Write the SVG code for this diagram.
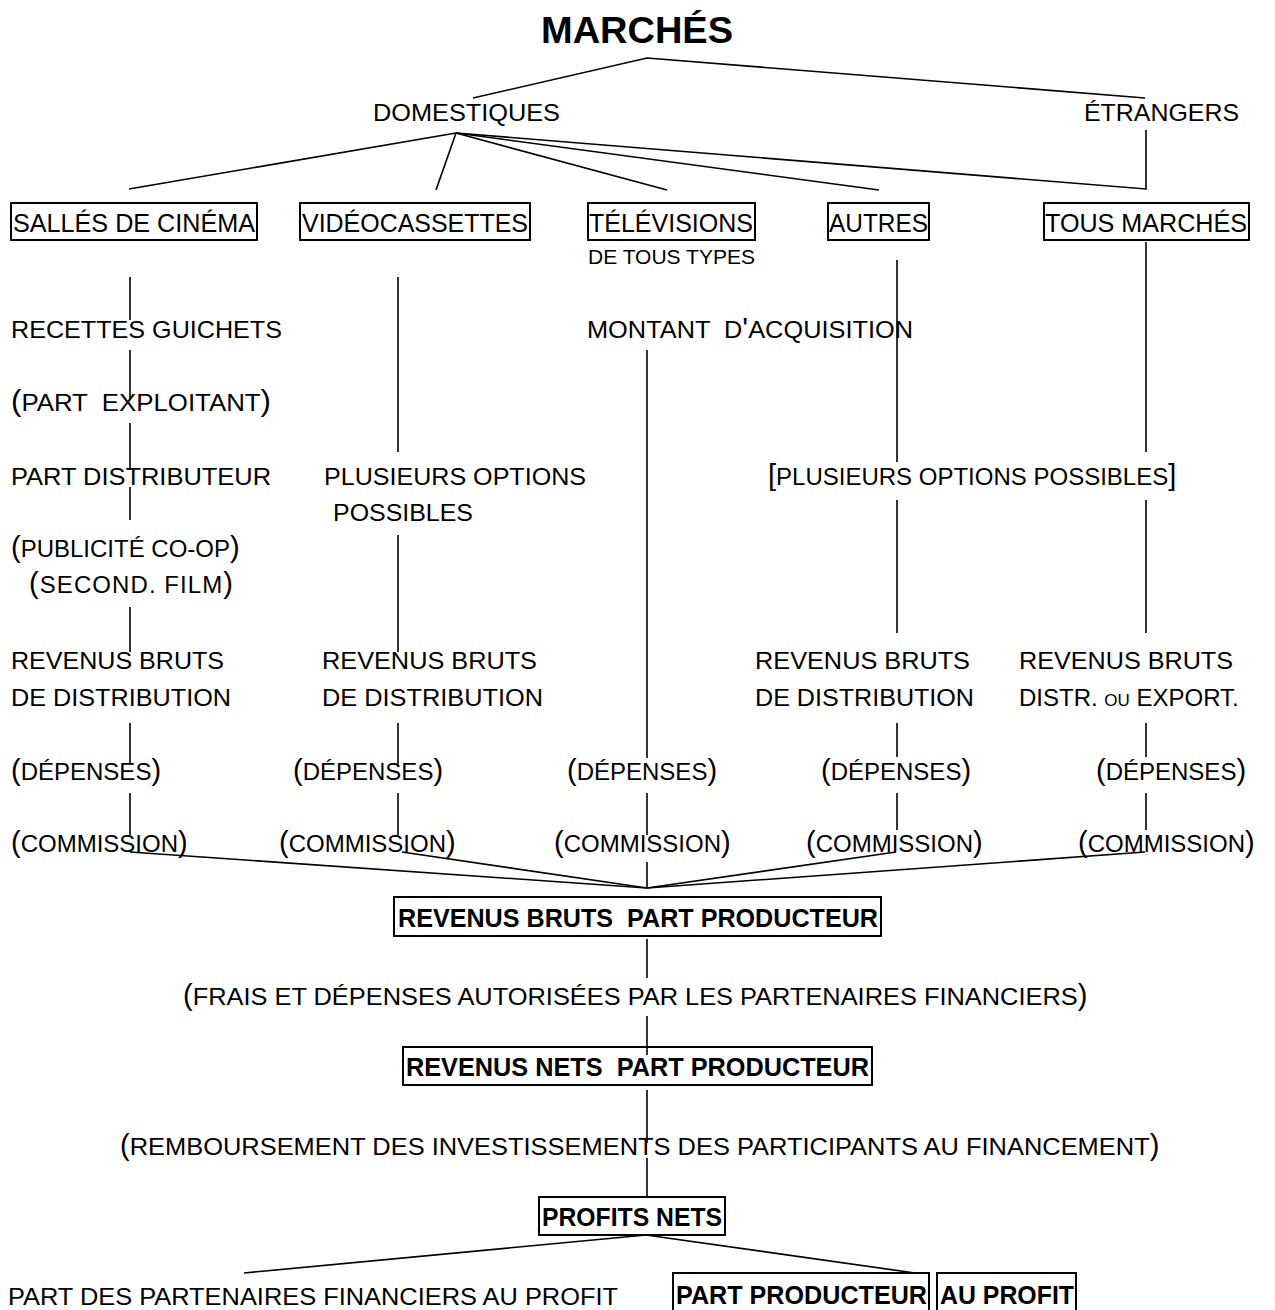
<svg xmlns="http://www.w3.org/2000/svg" width="1275" height="1310" viewBox="0 0 1275 1310">
<style>
.t{font-family:"Liberation Sans",Arial,sans-serif;font-size:24px;fill:#000}
.k{font-size:25px}
.b{font-weight:bold;font-size:26px}
.p{font-size:29px}
.s{font-size:17px}
.box{fill:none;stroke:#000;stroke-width:2}
.c line,.c polyline{stroke:#000;stroke-width:1.6;fill:none}
</style>
<rect width="1275" height="1310" fill="#fff"/>
<g class="c" id="connectors">
<polyline points="473,98 647,58 1145,98"/>
<line x1="456" y1="133" x2="129" y2="189"/>
<line x1="456" y1="133" x2="436" y2="190"/>
<line x1="456" y1="133" x2="667" y2="190"/>
<line x1="456" y1="133" x2="879" y2="190"/>
<polyline points="456,133 1146,189 1146,130"/>
<line x1="130" y1="277" x2="130" y2="320"/>
<line x1="130" y1="350" x2="130" y2="400"/>
<line x1="130" y1="423" x2="130" y2="470"/>
<line x1="130" y1="487" x2="130" y2="520"/>
<line x1="130" y1="607" x2="130" y2="652"/>
<line x1="130" y1="723" x2="130" y2="765"/>
<line x1="130" y1="793" x2="130" y2="835"/>
<line x1="398" y1="277" x2="398" y2="452"/>
<line x1="398" y1="535" x2="398" y2="652"/>
<line x1="398" y1="723" x2="398" y2="765"/>
<line x1="398" y1="793" x2="398" y2="835"/>
<line x1="647" y1="350" x2="647" y2="758"/>
<line x1="647" y1="793" x2="647" y2="835"/>
<line x1="647" y1="862" x2="647" y2="888"/>
<line x1="897" y1="260" x2="897" y2="462"/>
<line x1="897" y1="500" x2="897" y2="633"/>
<line x1="897" y1="723" x2="897" y2="757"/>
<line x1="897" y1="793" x2="897" y2="830"/>
<line x1="1146" y1="242" x2="1146" y2="452"/>
<line x1="1146" y1="500" x2="1146" y2="633"/>
<line x1="1146" y1="723" x2="1146" y2="757"/>
<line x1="1146" y1="793" x2="1146" y2="830"/>
<line x1="130" y1="852" x2="647" y2="888"/>
<line x1="402" y1="852" x2="647" y2="888"/>
<line x1="896" y1="852" x2="647" y2="888"/>
<line x1="1145" y1="852" x2="647" y2="888"/>
<line x1="647" y1="939" x2="647" y2="978"/>
<line x1="647" y1="1016" x2="647" y2="1055"/>
<line x1="647" y1="1090" x2="647" y2="1143"/>
<line x1="647" y1="1158" x2="647" y2="1197"/>
<polyline points="244,1273 646,1235 915,1273"/>
</g>
<g id="title"><text class="t" x="541" y="43" style="font-weight:bold;font-size:37px" textLength="192" lengthAdjust="spacingAndGlyphs">MARCHÉS</text></g>
<g id="domestiques"><text class="t" x="373" y="121" textLength="187" lengthAdjust="spacingAndGlyphs">DOMESTIQUES</text></g>
<g id="etrangers"><text class="t" x="1084" y="121" textLength="155" lengthAdjust="spacingAndGlyphs">ÉTRANGERS</text></g>
<g id="salles"><rect class="box" x="11" y="203" width="246" height="37"/><text class="t k" x="13" y="232" textLength="242" lengthAdjust="spacingAndGlyphs">SALLÉS DE CINÉMA</text></g>
<g id="video"><rect class="box" x="300" y="203" width="230" height="37"/><text class="t k" x="302" y="232" textLength="226" lengthAdjust="spacingAndGlyphs">VIDÉOCASSETTES</text></g>
<g id="tele"><rect class="box" x="588" y="203" width="167" height="37"/><text class="t k" x="589" y="232" textLength="164" lengthAdjust="spacingAndGlyphs">TÉLÉVISIONS</text><text class="t" style="font-size:20px" x="588" y="264" textLength="167" lengthAdjust="spacingAndGlyphs">DE TOUS TYPES</text></g>
<g id="autres"><rect class="box" x="828" y="203" width="101" height="37"/><text class="t k" x="829" y="232" textLength="99" lengthAdjust="spacingAndGlyphs">AUTRES</text></g>
<g id="tous"><rect class="box" x="1044" y="203" width="205" height="37"/><text class="t k" x="1045" y="232" textLength="202" lengthAdjust="spacingAndGlyphs">TOUS MARCHÉS</text></g>
<g id="col1">
<text class="t" x="11" y="338" textLength="271" lengthAdjust="spacingAndGlyphs">RECETTES GUICHETS</text>
<text class="t" x="11" y="411" xml:space="preserve" textLength="260" lengthAdjust="spacingAndGlyphs"><tspan class="p">(</tspan>PART  EXPLOITANT<tspan class="p">)</tspan></text>
<text class="t" x="11" y="485" textLength="260" lengthAdjust="spacingAndGlyphs">PART DISTRIBUTEUR</text>
<text class="t" x="11" y="557"><tspan class="p">(</tspan>PUBLICITÉ CO-OP<tspan class="p">)</tspan></text>
<text class="t" x="29" y="593" textLength="204" lengthAdjust="spacing"><tspan class="p">(</tspan>SECOND. FILM<tspan class="p">)</tspan></text>
<text class="t" x="11" y="669" textLength="213" lengthAdjust="spacingAndGlyphs">REVENUS BRUTS</text>
<text class="t" x="11" y="706" textLength="220" lengthAdjust="spacingAndGlyphs">DE DISTRIBUTION</text>
<text class="t" x="11" y="780"><tspan class="p">(</tspan>DÉPENSES<tspan class="p">)</tspan></text>
<text class="t" x="11" y="852"><tspan class="p">(</tspan>COMMISSION<tspan class="p">)</tspan></text>
</g>
<g id="col2">
<text class="t" x="324" y="485" textLength="262" lengthAdjust="spacingAndGlyphs">PLUSIEURS OPTIONS</text>
<text class="t" x="333" y="521" textLength="140" lengthAdjust="spacingAndGlyphs">POSSIBLES</text>
<text class="t" x="322" y="669" textLength="215" lengthAdjust="spacingAndGlyphs">REVENUS BRUTS</text>
<text class="t" x="322" y="706" textLength="221" lengthAdjust="spacingAndGlyphs">DE DISTRIBUTION</text>
<text class="t" x="293" y="780"><tspan class="p">(</tspan>DÉPENSES<tspan class="p">)</tspan></text>
<text class="t" x="279" y="852"><tspan class="p">(</tspan>COMMISSION<tspan class="p">)</tspan></text>
</g>
<g id="col3">
<text class="t" x="587" y="338" xml:space="preserve" textLength="326" lengthAdjust="spacingAndGlyphs">MONTANT  D<tspan class="p">'</tspan>ACQUISITION</text>
<text class="t" x="567" y="780"><tspan class="p">(</tspan>DÉPENSES<tspan class="p">)</tspan></text>
<text class="t" x="554" y="852"><tspan class="p">(</tspan>COMMISSION<tspan class="p">)</tspan></text>
</g>
<g id="col4">
<text class="t" x="768" y="485"><tspan class="p">[</tspan>PLUSIEURS OPTIONS POSSIBLES<tspan class="p">]</tspan></text>
<text class="t" x="755" y="669" textLength="215" lengthAdjust="spacingAndGlyphs">REVENUS BRUTS</text>
<text class="t" x="755" y="706" textLength="219" lengthAdjust="spacingAndGlyphs">DE DISTRIBUTION</text>
<text class="t" x="821" y="780"><tspan class="p">(</tspan>DÉPENSES<tspan class="p">)</tspan></text>
<text class="t" x="806" y="852"><tspan class="p">(</tspan>COMMISSION<tspan class="p">)</tspan></text>
</g>
<g id="col5">
<text class="t" x="1019" y="669" textLength="214" lengthAdjust="spacingAndGlyphs">REVENUS BRUTS</text>
<text class="t" x="1019" y="706">DISTR. <tspan class="s">OU</tspan> EXPORT.</text>
<text class="t" x="1096" y="780"><tspan class="p">(</tspan>DÉPENSES<tspan class="p">)</tspan></text>
<text class="t" x="1078" y="852"><tspan class="p">(</tspan>COMMISSION<tspan class="p">)</tspan></text>
</g>
<g id="bruts-producteur"><rect class="box" x="394" y="897" width="487" height="39"/><text class="t b" x="398" y="927" xml:space="preserve" textLength="480" lengthAdjust="spacingAndGlyphs">REVENUS BRUTS  PART PRODUCTEUR</text></g>
<g id="frais"><text class="t" x="183" y="1005"><tspan class="p">(</tspan><tspan textLength="885" lengthAdjust="spacingAndGlyphs">FRAIS ET DÉPENSES AUTORISÉES PAR LES PARTENAIRES FINANCIERS</tspan><tspan class="p">)</tspan></text></g>
<g id="nets-producteur"><rect class="box" x="403" y="1047" width="469" height="38"/><text class="t b" x="406" y="1076" xml:space="preserve" textLength="463" lengthAdjust="spacingAndGlyphs">REVENUS NETS  PART PRODUCTEUR</text></g>
<g id="remboursement"><text class="t" x="120" y="1155"><tspan class="p">(</tspan><tspan textLength="1020" lengthAdjust="spacingAndGlyphs">REMBOURSEMENT DES INVESTISSEMENTS DES PARTICIPANTS AU FINANCEMENT</tspan><tspan class="p">)</tspan></text></g>
<g id="profits-nets"><rect class="box" x="539" y="1197" width="186" height="38"/><text class="t b" x="542" y="1226" textLength="180" lengthAdjust="spacingAndGlyphs">PROFITS NETS</text></g>
<g id="part-partenaires"><text class="t" x="8" y="1305" textLength="610" lengthAdjust="spacingAndGlyphs">PART DES PARTENAIRES FINANCIERS AU PROFIT</text></g>
<g id="part-producteur"><rect class="box" x="673" y="1273" width="256" height="45"/><text class="t b" x="676" y="1304" textLength="251" lengthAdjust="spacingAndGlyphs">PART PRODUCTEUR</text><rect class="box" x="937" y="1273" width="139" height="45"/><text class="t b" x="940" y="1304" textLength="134" lengthAdjust="spacingAndGlyphs">AU PROFIT</text></g>
</svg>
